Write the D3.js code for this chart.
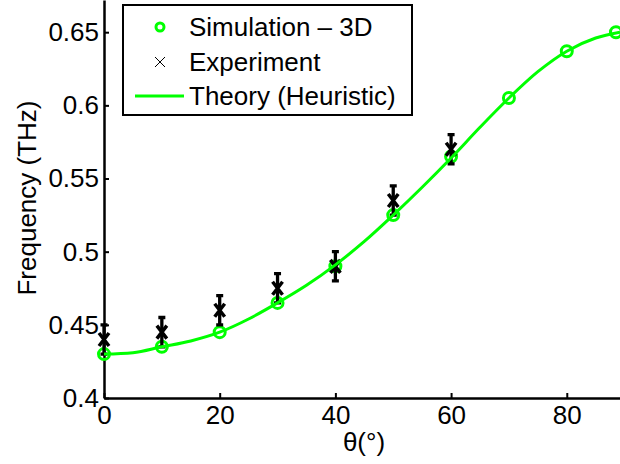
<!DOCTYPE html>
<html lang="en">
<head>
    <meta charset="UTF-8">
    <title>Frequency vs theta</title>
    <style>
        html,body {
            margin : 0px;
            padding: 0px;
            background: #fff;
        }
        svg text {
            font-family: "Liberation Sans", Arial, sans-serif;
            font-size: 26px;
            fill: #000;
        }
    </style>
    <script src="https://cdn.jsdelivr.net/npm/d3@7"></script>
</head>
<body>
<svg></svg>
<script>
    // simulation (green circles)
    const simTheta = [0, 10, 20, 30, 40, 50, 60, 70, 80, 88.5]
    const simFreq  = [0.430, 0.435, 0.445, 0.465, 0.490, 0.525, 0.565, 0.605, 0.637, 0.650]

    // experiment (black x + error bars)
    const expTheta = [0, 10, 20, 30, 40, 50, 60]
    const expFreq  = [0.440, 0.445, 0.460, 0.475, 0.490, 0.535, 0.570]
    const expErr   = [0.010, 0.010, 0.010, 0.010, 0.010, 0.010, 0.010]

    // theory curve
    const thTheta = [0, 5, 10, 15, 20, 25, 30, 35, 40, 45, 50, 55, 60, 65, 70, 75, 80, 85, 89.2]
    const thFreq  = [0.430, 0.431, 0.435, 0.439, 0.445, 0.454, 0.465, 0.477, 0.491, 0.507, 0.525,
                     0.544, 0.564, 0.585, 0.605, 0.623, 0.637, 0.646, 0.650]

    const xTicks = [0, 20, 40, 60, 80]
    const yTicks = [0.4, 0.45, 0.5, 0.55, 0.6, 0.65]

    const legendLabels = ['Simulation \u2013 3D', 'Experiment', 'Theory (Heuristic)']

    const _W = 620, _H = 464
    const GREEN = '#00ff00'

    const svg = d3.select('svg')
        .attr('width', _W)
        .attr('height', _H)

    const x = d3.scaleLinear().domain([0, 89.2]).range([104, 620])
    const y = d3.scaleLinear().domain([0.4, 0.672]).range([398, 0])

    // axes - matlab style, ticks pointing in
    const xAxis = d3.axisBottom(x).tickValues(xTicks)
        .tickSizeInner(-5).tickSizeOuter(0).tickPadding(8)
    const yAxis = d3.axisLeft(y).tickValues(yTicks)
        .tickSizeInner(-5).tickSizeOuter(0).tickPadding(5)
        .tickFormat(d => +d.toFixed(2))

    const gx = svg.append('g').attr('transform', `translate(0,${y(0.4)})`).call(xAxis)
    const gy = svg.append('g').attr('transform', `translate(${x(0)},0)`).call(yAxis)

    ;[gx, gy].forEach(g => {
        g.selectAll('path, line').attr('stroke', '#000').attr('stroke-width', 2)
        g.selectAll('text').attr('font-size', null).attr('font-family', null)
    })
    gx.select('.domain').attr('stroke-width', 2.5)
    gy.select('.domain').attr('stroke-width', 2.5)

    // axis titles
    svg.append('text')
        .attr('x', 364).attr('y', 451)
        .style('text-anchor', 'middle')
        .text('\u03b8(\u00b0)')

    svg.append('text')
        .attr('transform', `translate(36,${198}) rotate(-90)`)
        .style('text-anchor', 'middle')
        .text('Frequency (THz)')

    const plot = svg.append('g')

    // simulation circles
    plot.selectAll('.sim').data(d3.zip(simTheta, simFreq))
        .enter().append('circle').attr('class', 'sim')
        .attr('cx', d => x(d[0]))
        .attr('cy', d => y(d[1]))
        .attr('r', 5.5)
        .attr('fill', 'none')
        .attr('stroke', GREEN)
        .attr('stroke-width', 3)

    // experiment error bars + x markers
    const expGrp = plot.selectAll('.exp').data(d3.zip(expTheta, expFreq, expErr))
        .enter().append('g').attr('class', 'exp')
        .attr('stroke', '#000')

    expGrp.append('path')
        .attr('d', d => {
            const cx = x(d[0]), y0 = y(d[1] - d[2]), y1 = y(d[1] + d[2])
            return `M${cx},${y0}V${y1}M${cx - 3.5},${y0}H${cx + 3.5}M${cx - 3.5},${y1}H${cx + 3.5}`
        })
        .attr('stroke-width', 3.3)

    expGrp.append('path')
        .attr('transform', d => `translate(${x(d[0])},${y(d[1])})`)
        .attr('d', 'M-5,-6.5L5,6.5M-5,6.5L5,-6.5')
        .attr('stroke-width', 3.5)

    // theory line
    plot.append('path')
        .datum(d3.zip(thTheta, thFreq))
        .attr('fill', 'none')
        .attr('stroke', GREEN)
        .attr('stroke-width', 3)
        .attr('d', d3.line().x(d => x(d[0])).y(d => y(d[1])).curve(d3.curveMonotoneX))

    //==================================== legend
    const leg = svg.append('g')
    leg.append('rect')
        .attr('x', 123).attr('y', 5).attr('width', 289).attr('height', 110)
        .attr('fill', '#fff').attr('stroke', '#000').attr('stroke-width', 2)

    const rowY = [27, 62, 96]
    leg.append('circle')
        .attr('cx', 160).attr('cy', rowY[0]).attr('r', 4)
        .attr('fill', 'none').attr('stroke', GREEN).attr('stroke-width', 3)
    leg.append('path')
        .attr('d', `M155,${rowY[1] - 5}L165,${rowY[1] + 5}M155,${rowY[1] + 5}L165,${rowY[1] - 5}`)
        .attr('stroke', '#000').attr('stroke-width', 1)
    leg.append('line')
        .attr('x1', 135).attr('x2', 184).attr('y1', rowY[2]).attr('y2', rowY[2])
        .attr('stroke', GREEN).attr('stroke-width', 3)

    leg.selectAll('.lbl').data(legendLabels)
        .enter().append('text').attr('class', 'lbl')
        .attr('x', 189)
        .attr('y', (d, i) => rowY[i])
        .attr('dy', '0.35em')
        .text(d => d)
</script>
</body>
</html>
